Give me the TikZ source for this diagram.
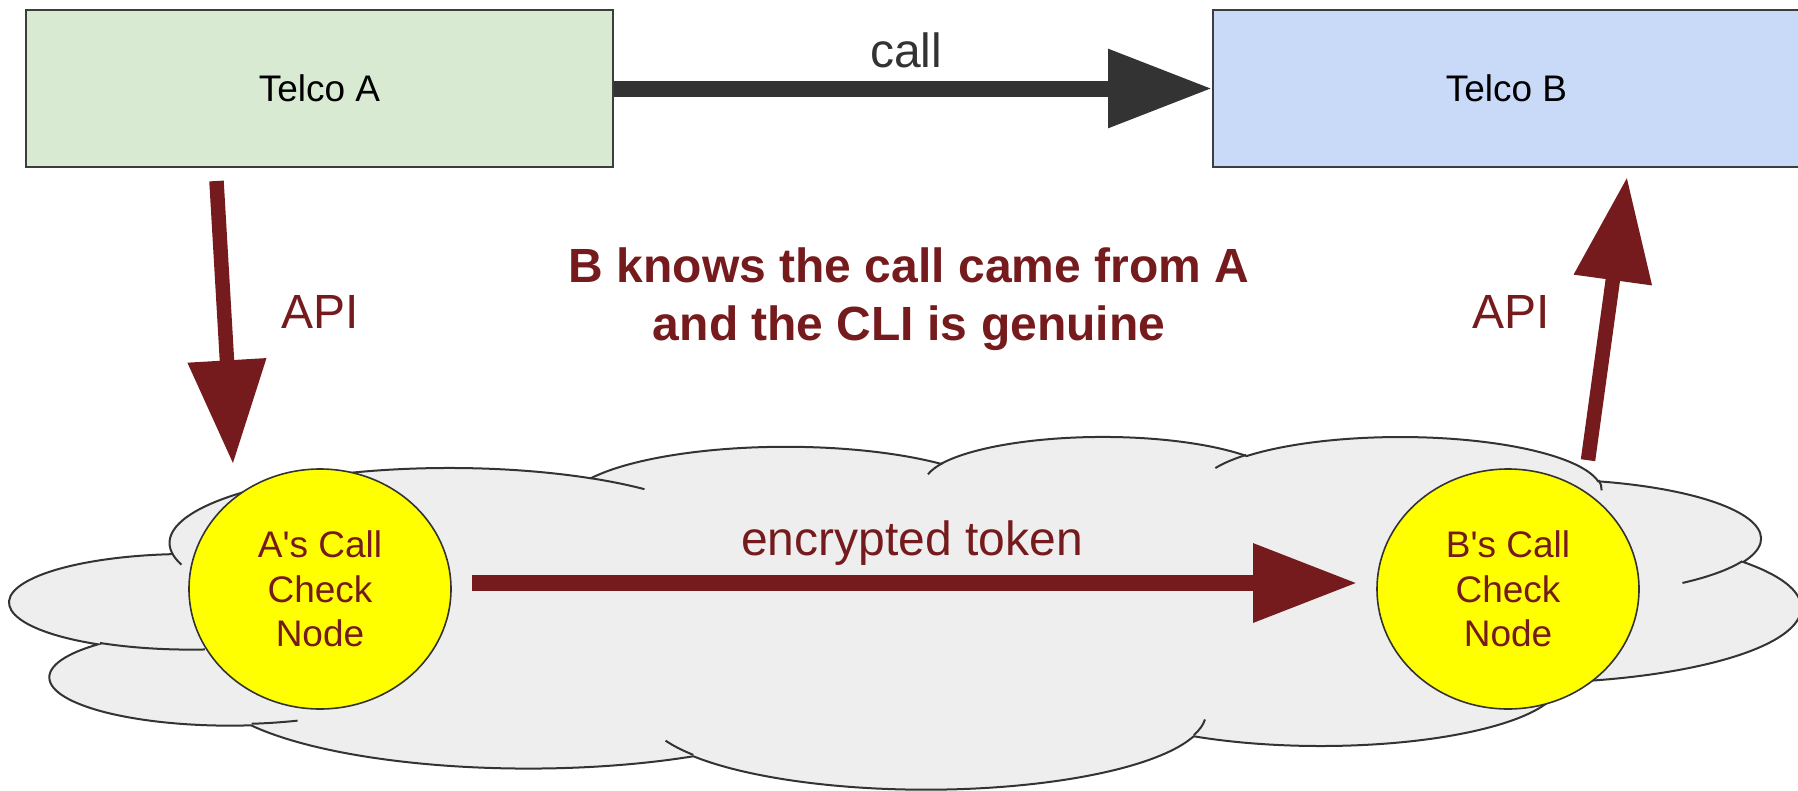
\documentclass[tikz,border=0pt]{standalone}
\usepackage{fontspec}
\setmainfont{Liberation Sans}[Ligatures=TeXOff]
\usetikzlibrary{arrows.meta,shapes.geometric}

\definecolor{berry}{HTML}{761B1D}
\definecolor{callgray}{HTML}{333333}
\definecolor{edgegray}{HTML}{3D3D3D}
\definecolor{telcoAfill}{HTML}{D9EAD3}
\definecolor{telcoBfill}{HTML}{C9DAF8}
\definecolor{cloudfill}{HTML}{EEEEEE}
\definecolor{nodeyellow}{HTML}{FFFF00}

% One lobe of the cloud outline: #1 name of the macro to define, #2/#3 the
% x/y radii, #4 start angle, #5 sweep.  The angles are polar angles (as in a
% DrawingML arcTo); they are turned into the parametric angles of TikZ's arc.
\newcommand\mkcloudarc[5]{%
  \pgfmathsetmacro\cloudS{atan2((#2)*sin(#4),(#3)*cos(#4))}%
  \pgfmathsetmacro\cloudE{atan2((#2)*sin((#4)+(#5)),(#3)*cos((#4)+(#5)))}%
  \pgfmathsetmacro\cloudE{\cloudE+360*round((\cloudS+(#5)-\cloudE)/360)}%
  \expandafter\xdef\csname #1\endcsname{arc[x radius=#2, y radius=#3,
    start angle=\cloudS, end angle=\cloudE]}%
}

\begin{document}
\begin{tikzpicture}[x=1pt, y=-1pt,
  telcobox/.style={draw=edgegray, line width=2pt, minimum width=587pt,
    minimum height=157pt, inner sep=0pt, font=\fontsize{37}{44}\selectfont},
  checknode/.style={ellipse, draw=callgray, line width=1.6pt, fill=nodeyellow,
    minimum width=262pt, minimum height=240pt, inner sep=0pt, align=center,
    text=berry, font=\fontsize{37}{44.5}\selectfont},
  cloudline/.style={draw=callgray, line width=2pt},
  fatarrow/.style={line width=16pt, -{Triangle[length=104pt,width=75pt]}},
  apiarrow/.style={fatarrow, line width=14.5pt},
  redlabel/.style={text=berry, font=\fontsize{48}{58}\selectfont},
]
\useasboundingbox (0,0) rectangle (1798,790);

% ---- the cloud (outline in a 432 x 432 frame, y pointing down) ----
\begin{scope}[shift={(10.5,435.8)}, xscale=1790/432, yscale=352.6/432]
  \mkcloudarc{lobeA}{67.53}{91.90}{-190.4875}{123.7805}
  \mkcloudarc{lobeB}{53.33}{72.67}{-144.1024}{89.9452}
  \mkcloudarc{lobeC}{43.65}{59.45}{-145.8079}{99.7230}
  \mkcloudarc{lobeD}{48.57}{65.95}{-130.9861}{117.2417}
  \mkcloudarc{lobeE}{53.33}{72.73}{-78.7089}{109.0269}
  \mkcloudarc{lobeF}{67.75}{92.20}{-46.2673}{130.2690}
  \mkcloudarc{lobeG}{57.85}{78.67}{0.6250}{114.0333}
  \mkcloudarc{lobeH}{67.52}{92.15}{22.4516}{115.1726}
  \mkcloudarc{lobeI}{77.20}{105.43}{66.2426}{75.7110}
  \mkcloudarc{lobeJ}{43.60}{59.18}{-274.9421}{146.7356}
  \mkcloudarc{lobeK}{43.45}{59.45}{-246.8285}{152.5189}
  \mkcloudarc{creaseA}{43.45}{59.45}{86.7420}{26.4295}
  \mkcloudarc{creaseB}{43.60}{59.18}{73.6105}{11.4475}
  \mkcloudarc{creaseC}{67.52}{92.15}{137.6242}{14.0811}
  \mkcloudarc{creaseD}{67.52}{92.15}{6.4533}{15.9984}
  \mkcloudarc{creaseE}{57.85}{78.67}{-70.2924}{70.9174}
  \mkcloudarc{creaseF}{53.33}{72.73}{30.3180}{27.7515}
  \mkcloudarc{creaseG}{48.57}{65.95}{-13.7443}{14.8589}
  \mkcloudarc{creaseH}{48.57}{65.95}{-149.1815}{18.1954}
  \mkcloudarc{creaseI}{43.65}{59.45}{-163.4943}{17.6864}
  \mkcloudarc{creaseJ}{67.53}{91.90}{-66.7070}{12.3194}
  \mkcloudarc{creaseK}{67.53}{91.90}{157.6544}{11.8582}
  \draw[cloudline, fill=cloudfill] (39.00,143.70)
    \lobeA \lobeB \lobeC \lobeD \lobeE \lobeF
    \lobeG \lobeH \lobeI \lobeJ \lobeK -- cycle;
  \draw[cloudline]
    (46.93,261.77) \creaseA (69.28,348.99) \creaseB
    (164.78,390.90) \creaseC (288.27,347.51) \creaseD
    (341.29,229.54) \creaseE (417.98,153.54) \creaseF
    (383.24,54.26) \creaseG (290.78,39.52) \creaseH
    (221.41,47.20) \creaseI (140.00,51.92) \creaseJ
    (41.27,157.89) \creaseK;
\end{scope}

% ---- operators ----
\node[telcobox, fill=telcoAfill] (telcoA) at (319.5,88.5) {Telco A};
\node[telcobox, fill=telcoBfill] (telcoB) at (1506.5,88.5) {Telco B};

% ---- call check nodes ----
\node[checknode] (checkA) at (320,589) {A's Call\\Check\\Node};
\node[checknode] (checkB) at (1508,589) {B's Call\\Check\\Node};

% ---- connectors ----
\draw[fatarrow, draw=callgray] (telcoA.east) -- (telcoB.west);
\draw[apiarrow, draw=berry]
  ([shift={(-103,13)}]telcoA.south) -- ([shift={(-87,-4)}]checkA.north);
\draw[apiarrow, draw=berry]
  ([shift={(80,-8)}]checkB.north) -- ([shift={(120.5,9)}]telcoB.south);
\draw[fatarrow, draw=berry]
  ([shift={(20,-6)}]checkA.east) -- ([shift={(-19,-6)}]checkB.west);

% ---- labels ----
\node[anchor=base, text=callgray, font=\fontsize{48}{58}\selectfont]
  (calllabel) at (906,67) {call};
\node[redlabel, anchor=base] (apiAlabel) at (320,328) {API};
\node[redlabel, anchor=base] (apiBlabel) at (1511,328) {API};
\node[redlabel, anchor=base] (tokenlabel) at (912,555) {encrypted token};
\node[redlabel, font=\fontsize{48}{58}\bfseries\selectfont, align=center]
  (claim) at (909,299) {B knows the call came from A\\and the CLI is genuine};
\end{tikzpicture}
\end{document}
